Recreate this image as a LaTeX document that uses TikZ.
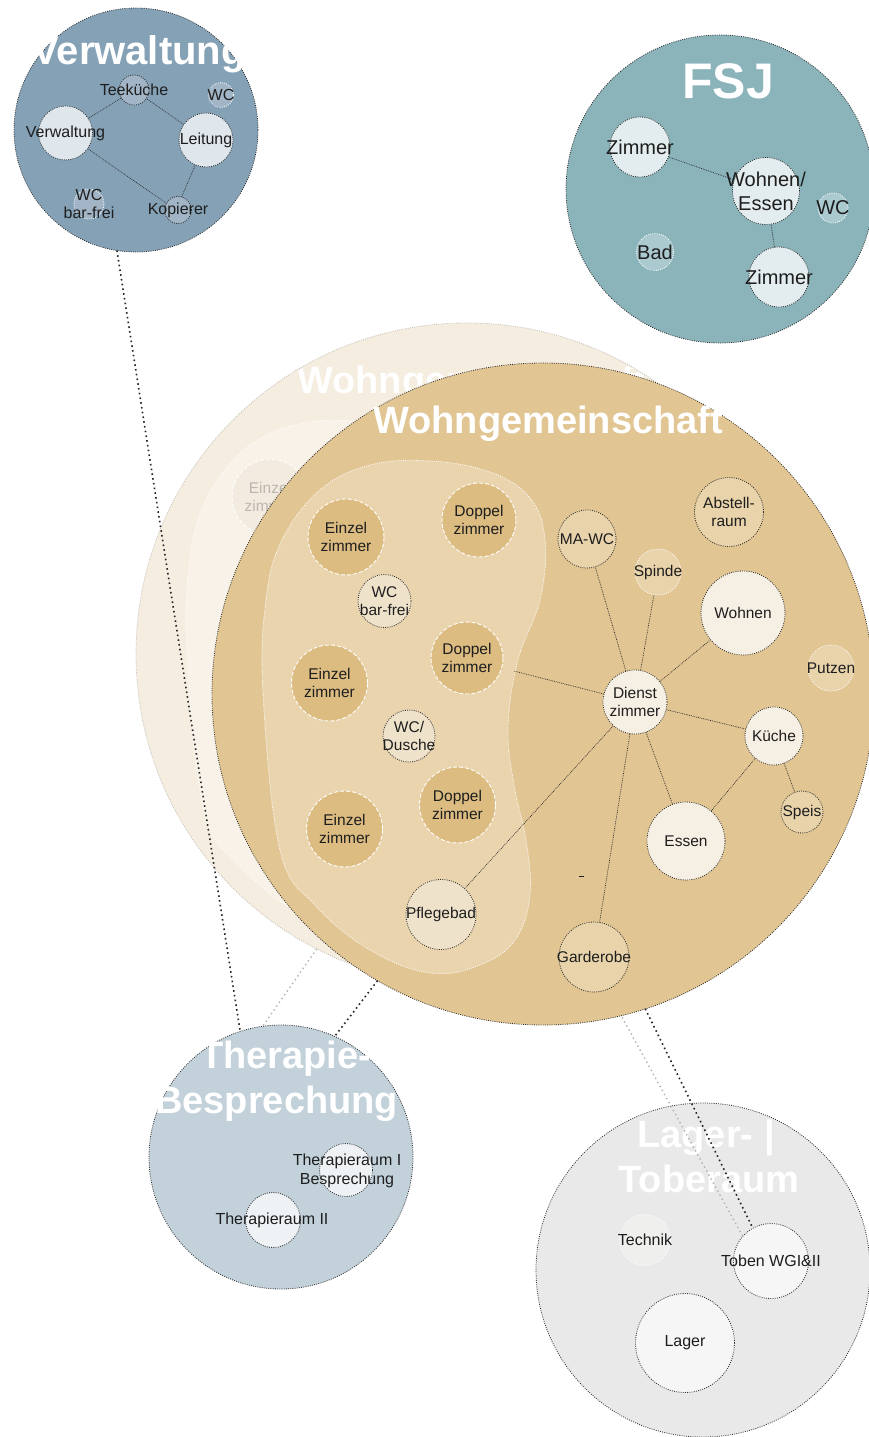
\documentclass[tikz,border=0pt]{standalone}
\usepackage{fontspec}
\setmainfont{Liberation Sans}

% palette
\definecolor{ink}{HTML}{1E1E1E}
\definecolor{dotdark}{HTML}{2E2E2E}
\definecolor{verwbg}{HTML}{84A1B6}
\definecolor{verwroom}{HTML}{E0E7EC}
\definecolor{verwsmall}{HTML}{A1B5C6}
\definecolor{fsjbg}{HTML}{8AB3BA}
\definecolor{fsjroom}{HTML}{E3ECEE}
\definecolor{fsjsmall}{HTML}{AACACF}
\definecolor{wgbg}{HTML}{E1C592}
\definecolor{wgblob}{HTML}{E9D4AE}
\definecolor{wgroom}{HTML}{DCBC81}
\definecolor{wgsmall}{HTML}{EFE2CA}
\definecolor{wgmid}{HTML}{E8D3AB}
\definecolor{wgcream}{HTML}{F6EFE3}
\definecolor{fadebg}{HTML}{F5EDE0}
\definecolor{fadeblob}{HTML}{F8F2E9}
\definecolor{faderoom}{HTML}{F3EBDF}
\definecolor{fadetext}{HTML}{BDB6AC}
\definecolor{fadeline}{HTML}{C4BFB7}
\definecolor{therbg}{HTML}{C2D1DA}
\definecolor{therroom}{HTML}{EEF2F5}
\definecolor{lagbg}{HTML}{E8E9E8}
\definecolor{lagsmall}{HTML}{EFEFEE}
\definecolor{lagroom}{HTML}{F6F6F6}

\tikzset{
  disc/.style={circle, inner sep=0pt, outer sep=0pt, minimum size={2*#1}},
  dk/.style={draw=dotdark, line width=0.8pt, dash pattern=on 0.9pt off 1.3pt},
  wdot/.style={draw=white, line width=0.8pt, dash pattern=on 0.9pt off 1.3pt},
  wdash/.style={draw=white, line width=0.9pt, dash pattern=on 4pt off 2pt},
  link/.style={draw=dotdark, line width=0.7pt, dash pattern=on 0.8pt off 1pt},
  far/.style={draw=black!85, line width=1.6pt, dash pattern=on 1.6pt off 3.2pt},
  fargray/.style={draw=black!30, line width=1.4pt, dash pattern=on 1.4pt off 3.2pt},
  title/.style={text=white, inner sep=0pt, font=\fontsize{38}{40}\selectfont\bfseries},
  wgl/.style={text=ink, inner sep=0pt, align=center, font=\fontsize{15.5}{18}\selectfont},
  vwl/.style={text=ink, inner sep=0pt, align=center, font=\fontsize{16}{18}\selectfont},
  fsl/.style={text=ink, inner sep=0pt, align=center, font=\fontsize{20}{24}\selectfont},
  thl/.style={text=ink, inner sep=0pt, align=center, font=\fontsize{16}{19}\selectfont},
  fadel/.style={text=fadetext, inner sep=0pt, align=center, font=\fontsize{15.5}{18}\selectfont},
}

% outline of the apartment-room group
\newcommand\roomblob{plot[smooth cycle, tension=0.65] coordinates {
  (263,693) (266,600) (282,540) (320,490) (370,465) (430,461) (490,472)
  (530,498) (545,540) (540,600) (518,660) (508,727) (514,785) (526,840)
  (530,895) (515,940) (480,965) (430,973) (370,950) (315,905) (280,850)}}

\begin{document}
\begin{tikzpicture}[x=1pt,y=-1pt]
\useasboundingbox (0,0) rectangle (869,1437);
\clip (0,0) rectangle (869,1437);

% ---------- Lager- | Toberaum ----------
\node[disc=167, fill=lagbg, dk] (lag) at (703,1270) {};
\node[title, anchor=base] (lagt1) at (706,1147) {Lager- |};
\node[title, anchor=base] (lagt2) at (709,1192) {Toberaum};
\node[disc=25.5, fill=lagsmall, wdot, label={[thl]center:Technik}] (tech) at (645,1240) {};
\node[disc=37.5, fill=lagroom, dk, label={[thl]center:Toben WGI\&II}] (toben) at (771,1261) {};
\node[disc=49.5, fill=lagroom, dk, label={[thl]center:Lager}] (lager) at (685,1343) {};

% ---------- Therapie / Besprechung ----------
\node[disc=132, fill=therbg, dk] (ther) at (281,1157) {};
\begin{scope}
  \clip (140,1020) rectangle (407,1130);
  \node[title, anchor=base west] (thert1) at (200,1068) {Therapie-};
  \node[title, anchor=base west] (thert2) at (155,1113) {Besprechung};
\end{scope}
\node[disc=26.5, fill=therroom, dk] (th1) at (346,1170) {};
\node[thl] (th1t) at (347,1171) {Therapieraum I\\Besprechung};
\node[disc=27.5, fill=therroom, dk] (th2) at (273,1220) {};
\node[thl] (th2t) at (272,1220) {Therapieraum II};

% ---------- Verwaltung ----------
\node[disc=122, fill=verwbg, dk] (verw) at (136,130) {};
\begin{scope}
  \clip (10,0) rectangle (246,110);
  \node[title, font=\fontsize{40}{42}\selectfont\bfseries, anchor=base] (verwt) at (139,65) {Verwaltung};
\end{scope}
\draw[link] (65,133) -- (134,90);
\draw[link] (134,90) -- (206,140);
\draw[link] (65,133) -- (176,210);
\draw[link] (206,140) -- (176,210);
\node[disc=15, fill=verwsmall, dk, label={[vwl]center:Teeküche}] (teek) at (134,90) {};
\node[disc=12.5, fill=verwsmall, wdot, label={[vwl]center:WC}] (vwc) at (221,95) {};
\node[disc=27, fill=verwroom, dk, label={[vwl]center:Verwaltung}] (vbuero) at (65.5,133) {};
\node[disc=27, fill=verwroom, dk, label={[vwl]center:Leitung}] (leit) at (206,140) {};
\node[disc=15, fill=verwsmall, wdot, label={[vwl]center:WC\\bar-frei}] (vwcb) at (89,204) {};
\node[disc=13.5, fill=verwsmall, dk, label={[vwl]center:Kopierer}] (kop) at (178,210) {};

% ---------- FSJ ----------
\node[disc=154, fill=fsjbg, dk] (fsj) at (720,189) {};
\node[title, font=\fontsize{50}{52}\selectfont\bfseries, anchor=base] (fsjt) at (728,98) {FSJ};
\draw[link] (640,147) -- (766,191);
\draw[link] (766,191) -- (779,277);
\node[disc=30, fill=fsjroom, dk, label={[fsl]center:Zimmer}] (fz1) at (640,147) {};
\node[disc=33.5, fill=fsjroom, dk, label={[fsl]center:Wohnen/\\Essen}] (fwe) at (766,191) {};
\node[disc=15, fill=fsjsmall, wdot, label={[fsl]center:WC}] (fwc) at (833,208) {};
\node[disc=18.5, fill=fsjsmall, wdot, label={[fsl]center:Bad}] (fbad) at (655,252) {};
\node[disc=30, fill=fsjroom, dk, label={[fsl]center:Zimmer}] (fz2) at (779,277) {};

% ---------- earlier Wohngemeinschaft layer (faded, behind) ----------
\begin{scope}[shift={(-76,-40)}]
  \node[disc=331, fill=fadebg, draw=fadeline, line width=0.8pt, dash pattern=on 0.9pt off 1.3pt] (fwg) at (543,694) {};
  \begin{scope}
    \clip (543,694) circle[radius=330pt];
    \node[title, anchor=base west] (fwgt) at (373,433) {Wohngemeinschaft};
  \end{scope}
  \path[fill=fadeblob, wdot] \roomblob;
  \node[disc=38, fill=faderoom, wdash, label={[fadel]center:Einzel\\zimmer}] (fez1) at (346,537) {};
  \node[disc=38, fill=faderoom, wdash, label={[fadel]center:Einzel\\zimmer}] (fez2) at (329.5,683) {};
  \node[disc=38, fill=faderoom, wdash, label={[fadel]center:Einzel\\zimmer}] (fez3) at (344.5,829) {};
\end{scope}

% connectors between the units (background ones first)
\draw[fargray] (fwg.243) -- (ther.98);
\draw[fargray] (fwg.292) -- (toben.139);
\draw[far] (verw.261) -- (ther.108);

% ---------- Wohngemeinschaft ----------
\node[disc=331, fill=wgbg, dk] (wg) at (543,694) {};
\node[title, anchor=base west] (wgt) at (373,433) {Wohngemeinschaft};
\path[fill=wgblob, wdot] \roomblob;
\coordinate (blobE) at (514,671);

% connections inside the flat
\draw[link] (635,702) -- (587,539);
\draw[link] (635,702) -- (658,572);
\draw[link] (635,702) -- (743,613);
\draw[link] (635,702) -- (774,736);
\draw[link] (635,702) -- (686,841);
\draw[link] (635,702) -- (594,957);
\draw[link] (635,702) -- (441,914.5);
\draw[link] (635,702) -- (blobE);
\draw[link] (774,736) -- (686,841);
\draw[link] (774,736) -- (802,812);

% rooms of the group
\node[disc=38, fill=wgroom, wdash, label={[wgl]center:Einzel\\zimmer}] (ez1) at (346,537) {};
\node[disc=37, fill=wgroom, wdash, label={[wgl]center:Doppel\\zimmer}] (dz1) at (479,520) {};
\node[disc=26.5, fill=wgsmall, dk, label={[wgl]center:WC\\bar-frei}] (wcb) at (384.5,601) {};
\node[disc=36, fill=wgroom, wdash, label={[wgl]center:Doppel\\zimmer}] (dz2) at (467,658) {};
\node[disc=38, fill=wgroom, wdash, label={[wgl]center:Einzel\\zimmer}] (ez2) at (329.5,683) {};
\node[disc=26, fill=wgsmall, dk, label={[wgl]center:WC/\\Dusche}] (wcd) at (409,736) {};
\node[disc=38, fill=wgroom, wdash, label={[wgl]center:Doppel\\zimmer}] (dz3) at (457.5,805) {};
\node[disc=38, fill=wgroom, wdash, label={[wgl]center:Einzel\\zimmer}] (ez3) at (344.5,829) {};
\node[disc=35, fill=wgsmall, dk, label={[wgl]center:Pflegebad}] (pfl) at (441,914.5) {};

% shared rooms
\node[disc=29, fill=wgmid, dk, label={[wgl]center:MA-WC}] (mawc) at (587,539) {};
\node[disc=34.5, fill=wgmid, dk, label={[wgl]center:Abstell-\\raum}] (abst) at (729,512) {};
\node[disc=23, fill=wgmid, wdot, label={[wgl]center:Spinde}] (spinde) at (658,572) {};
\node[disc=42, fill=wgcream, dk, label={[wgl]center:Wohnen}] (wohnen) at (743,613) {};
\node[disc=23, fill=wgmid, wdot, label={[wgl]center:Putzen}] (putzen) at (831,668) {};
\node[disc=32, fill=wgcream, dk, label={[wgl]center:Dienst\\zimmer}] (dienst) at (635,702) {};
\node[disc=29, fill=wgcream, dk, label={[wgl]center:Küche}] (kueche) at (774,736) {};
\node[disc=21, fill=wgmid, dk, label={[wgl]center:Speis}] (speis) at (802,812) {};
\node[disc=39, fill=wgcream, dk, label={[wgl]center:Essen}] (essen) at (686,841) {};
\node[disc=35, fill=wgmid, dk, label={[wgl]center:Garderobe}] (garde) at (594,957) {};
\draw[ink, line width=1pt] (579,876) -- (584,876);

% connectors from the flat
\draw[far] (wg.240) -- (ther.66);
\draw[far] (wg.288) -- (toben.119);
\end{tikzpicture}
\end{document}
